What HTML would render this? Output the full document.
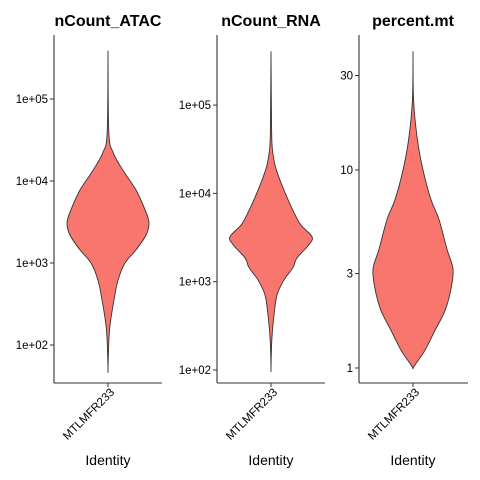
<!DOCTYPE html>
<html><head><meta charset="utf-8"><style>
html,body{margin:0;padding:0;background:#fff}
svg{display:block;font-family:"Liberation Sans",sans-serif}
</style></head><body>
<svg id="chart" width="480" height="480"></svg>
<script>
// ATAC: log10 values & half-width density
const atacLevels=[5.59,4.6,4.35,4.13,3.89,3.65,3.49,3.34,3.16,3.0,2.79,2.55,2.18,1.72];
const atacDensity=[0,0.8,5,15,28,37,41,38,28,17,10,6,1.5,0];
const atacTicks=[2,3,4,5];
const atacTickLabels=["1e+02","1e+03","1e+04","1e+05"];
const rnaLevels=[5.61,4.72,4.49,4.32,4.15,3.93,3.76,3.64,3.51,3.42,3.27,3.16,3.02,2.85,2.62,2.34,2.02];
const rnaDensity=[0,0.6,1.5,4,9,17,24,30,41,38,26,22,13,6,3,0.8,0];
const rnaTicks=[2,3,4,5];
const rnaTickLabels=["1e+02","1e+03","1e+04","1e+05"];
const mtLevels=[1.6,1.35,1.15,1.0,0.85,0.75,0.6,0.5,0.4,0.29,0.19,0.09,0.03,0];
const mtDensity=[0,0.6,4.5,10,18,26,34,40,38,32,22,12,4,0];
const mtTicks=[0,0.4771,1,1.4771];
const mtTickLabels=["1","3","10","30"];
const panels=[
 {title:"nCount_ATAC",ax:54,xe:162,cx:108,v0:2,p0:345,ppd:82,levels:atacLevels,dens:atacDensity,ticks:atacTicks,labels:atacTickLabels},
 {title:"nCount_RNA",ax:217,xe:325,cx:271,v0:2,p0:370,ppd:88.3,levels:rnaLevels,dens:rnaDensity,ticks:rnaTicks,labels:rnaTickLabels},
 {title:"percent.mt",ax:359,xe:468,cx:413,v0:0,p0:368,ppd:198,levels:mtLevels,dens:mtDensity,ticks:mtTicks,labels:mtTickLabels}
];
const svg=document.getElementById('chart');
const NS="http://www.w3.org/2000/svg";
function mk(t,a,txt){const e=document.createElementNS(NS,t);for(const k in a)e.setAttribute(k,a[k]);if(txt!=null)e.textContent=txt;svg.appendChild(e);return e;}
panels.forEach((p,i)=>{
 const y=v=>p.p0-(v-p.v0)*p.ppd;
 const right=p.levels.map((v,j)=>[p.cx+p.dens[j],y(v)]);
 const left=p.levels.map((v,j)=>[p.cx-p.dens[j],y(v)]).reverse();
 const pts=right.concat(left);
 function smooth(a){let d="M"+a[0][0]+","+a[0][1];for(let k=0;k<a.length-1;k++){const p0=a[Math.max(k-1,0)],p1=a[k],p2=a[k+1],p3=a[Math.min(k+2,a.length-1)];
  const c1=[p1[0]+(p2[0]-p0[0])/6,p1[1]+(p2[1]-p0[1])/6],c2=[p2[0]-(p3[0]-p1[0])/6,p2[1]-(p3[1]-p1[1])/6];
  d+=` C${c1[0]},${c1[1]} ${c2[0]},${c2[1]} ${p2[0]},${p2[1]}`;}return d+"Z";}
 const vio=mk('path',{d:smooth(pts),fill:'#F8766D',stroke:'#333',"stroke-width":0.9});
 
 
 const t=mk('text',{x:p.cx,y:26,"text-anchor":"middle","font-size":16,"font-weight":"bold",fill:"#000"},p.title);
 
 
 const ya=mk('line',{x1:p.ax,y1:35,x2:p.ax,y2:383,stroke:'#333',"stroke-width":1.1});
 
 
 const xa=mk('line',{x1:p.ax,y1:383,x2:p.xe,y2:383,stroke:'#333',"stroke-width":1.1});
 
 
 p.ticks.forEach((v,j)=>{
  const ty=y(v);
  const tk=mk('line',{x1:p.ax-4,y1:ty,x2:p.ax,y2:ty,stroke:'#333'});
  
  
  const tl=mk('text',{x:p.ax-6,y:ty+4,"text-anchor":"end","font-size":11.5,fill:'#000'},p.labels[j]);
  
  
 });
 const xt=mk('line',{x1:p.cx,y1:383,x2:p.cx,y2:387,stroke:'#333'});
 
 
 const xl=mk('text',{x:p.cx+7,y:393,"text-anchor":"end","font-size":11.5,fill:'#000',transform:`rotate(-45 ${p.cx+7} 393)`},"MTLMFR233");
 
 
 const it=mk('text',{x:p.cx,y:465,"text-anchor":"middle","font-size":14,fill:'#000'},"Identity");
 
 
});
</script>
</body></html>
